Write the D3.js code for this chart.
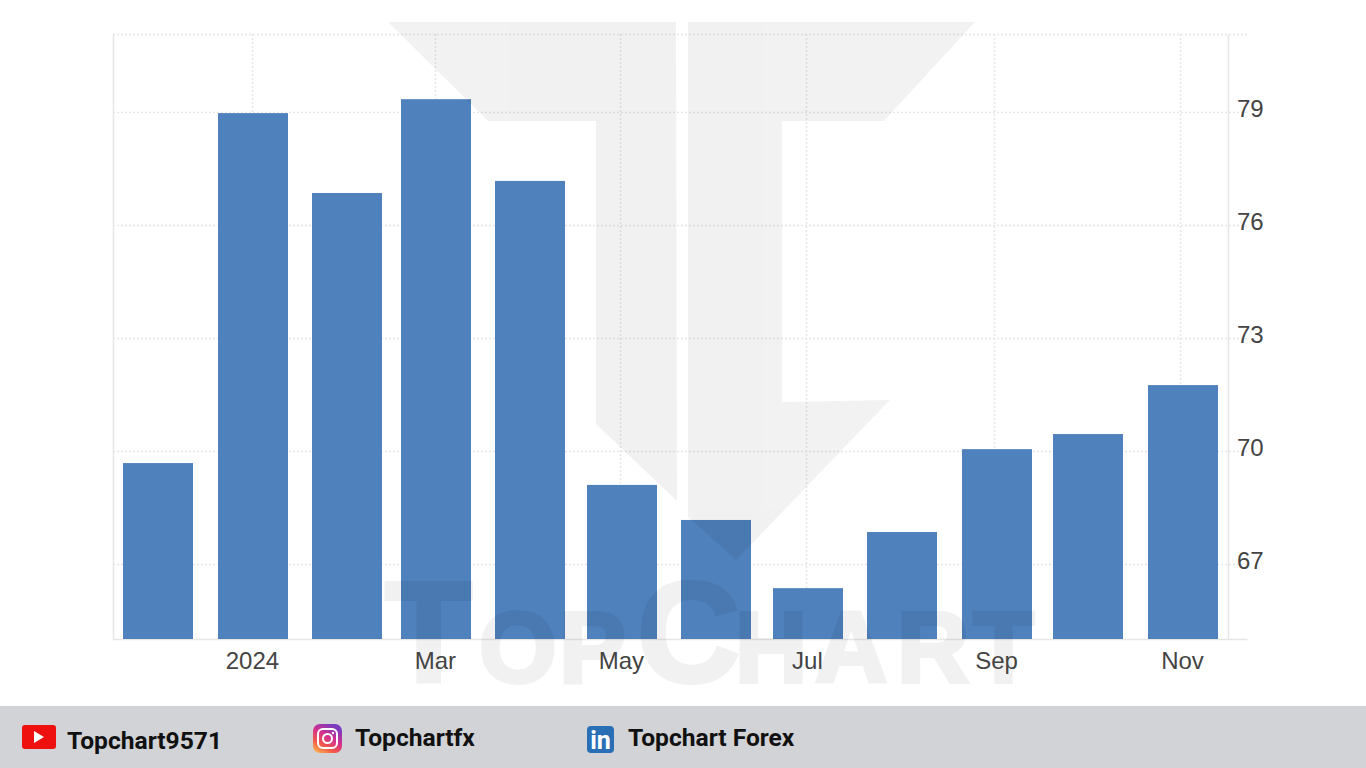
<!DOCTYPE html>
<html>
<head>
<meta charset="utf-8">
<script src="https://cdnjs.cloudflare.com/ajax/libs/d3/7.8.5/d3.min.js"></script>
<style>
  html, body { margin: 0; padding: 0; background: #fff; overflow: hidden; }
  .tick-label { font-family: "Liberation Sans", Arial, sans-serif; font-size: 24px; fill: #444; }
  .social { font-family: Roboto, sans-serif; font-weight: 700; font-size: 24.6px; fill: #111; }
</style>
</head>
<body>
<div id="chart"></div>
<script>
// data
var months = ["2023-12-01", "2024-01-01", "2024-02-01", "2024-03-01", "2024-04-01", "2024-05-01",
              "2024-06-01", "2024-07-01", "2024-08-01", "2024-09-01", "2024-10-01", "2024-11-01"];
var values = [69.68, 78.97, 76.85, 79.34, 77.17, 69.1, 68.17, 66.36, 67.85, 70.05, 70.45, 71.75];
var yTicks = [67, 70, 73, 76, 79];
var xTickMonths = ["2024-01-01", "2024-03-01", "2024-05-01", "2024-07-01", "2024-09-01", "2024-11-01"];
var xTickLabels = ["2024", "Mar", "May", "Jul", "Sep", "Nov"];
var socials = ["Topchart9571", "Topchartfx", "Topchart Forex"];

var svgWidth = 1366;
var svgHeight = 768;
var plot = { left: 113, right: 1228, top: 34, bottom: 639, tickEnd: 1247 };
var barWidth = 70;

var parseDate = d3.timeParse("%Y-%m-%d");

var svg = d3.select("#chart").append("svg")
    .attr("width", svgWidth)
    .attr("height", svgHeight)
    .style("display", "block");

// scales
var xScale = d3.scaleTime()
    .domain([parseDate(months[0]), parseDate(months[months.length - 1])])
    .range([158.4, 1183]);

// the vertical grid drifts a little left of the bars in the original
var xGridScale = d3.scaleTime()
    .domain([parseDate(xTickMonths[0]), parseDate(xTickMonths[xTickMonths.length - 1])])
    .range([252, 1180]);

var yScale = d3.scaleLinear()
    .domain([65.01, 81.07])
    .range([plot.bottom, plot.top]);

// grid
var grid = svg.append("g");

grid.selectAll("line.h")
    .data(yTicks.concat([81.07]))
    .enter().append("line")
    .attr("x1", plot.left)
    .attr("x2", plot.tickEnd)
    .attr("y1", d => Math.round(yScale(d)) + 0.5)
    .attr("y2", d => Math.round(yScale(d)) + 0.5)
    .attr("stroke", "#e6e6e6")
    .attr("stroke-width", 1.5)
    .attr("stroke-dasharray", "2,2");

grid.selectAll("line.v")
    .data(xTickMonths)
    .enter().append("line")
    .attr("x1", d => Math.round(xGridScale(parseDate(d))) + 0.5)
    .attr("x2", d => Math.round(xGridScale(parseDate(d))) + 0.5)
    .attr("y1", plot.top)
    .attr("y2", plot.bottom)
    .attr("stroke", "#e6e6e6")
    .attr("stroke-width", 1.5)
    .attr("stroke-dasharray", "2,2");

// frame lines
var frame = [
  [plot.left, plot.top, plot.left, plot.bottom],
  [plot.right, plot.top, plot.right, plot.bottom],
  [plot.left, plot.bottom, plot.tickEnd, plot.bottom]
];
grid.selectAll("line.frame")
    .data(frame)
    .enter().append("line")
    .attr("x1", d => d[0] + 0.5)
    .attr("y1", d => d[1] + 0.5)
    .attr("x2", d => d[2] + 0.5)
    .attr("y2", d => d[3] + 0.5)
    .attr("stroke", "#e6e6e6")
    .attr("stroke-width", 1.5);

// bars
svg.selectAll("rect.bar")
    .data(values)
    .enter().append("rect")
    .attr("class", "bar")
    .attr("x", (d, i) => Math.round(xScale(parseDate(months[i])) - barWidth / 2))
    .attr("width", barWidth)
    .attr("y", d => yScale(d))
    .attr("height", d => plot.bottom - yScale(d))
    .attr("fill", "#4f81bd");

// watermark sits over the chart
var mark = svg.append("g")
    .attr("fill", "#000")
    .attr("stroke", "#000")
    .attr("opacity", 0.05)
    .style("pointer-events", "none");

mark.append("path")
    .attr("stroke", "none")
    .attr("d", "M388,22 L676,22 L677,501 L596,424 L596,121 L488,121 Z");
mark.append("path")
    .attr("stroke", "none")
    .attr("d", "M688,22 L975,22 L884,121 L782,121 L782,402 L890,400 L736,560 L688,517 Z");

// TopChart in small caps, big and small letters
var markLetters = [["T", 385, 143], ["O", 479, 100], ["P", 559, 100], ["C", 637, 143],
                   ["H", 735, 100], ["A", 815, 100], ["R", 897, 100], ["T", 973, 100]];
mark.selectAll("text")
    .data(markLetters)
    .enter().append("text")
    .attr("x", d => d[1])
    .attr("y", 682)
    .attr("stroke-width", 4)
    .attr("font-family", "Liberation Sans, sans-serif")
    .attr("font-weight", 700)
    .attr("font-size", d => d[2])
    .text(d => d[0]);

// axis labels
var xAxis = d3.axisBottom(xScale)
    .tickValues(xTickMonths.map(parseDate))
    .tickFormat((d, i) => xTickLabels[i])
    .tickSize(0)
    .tickPadding(13);

svg.append("g")
    .attr("transform", `translate(-1, ${plot.bottom})`)
    .call(xAxis)
    .call(g => g.select(".domain").remove())
    .selectAll("text")
    .attr("class", "tick-label");

var yAxis = d3.axisRight(yScale)
    .tickValues(yTicks)
    .tickSize(0)
    .tickPadding(0);

svg.append("g")
    .attr("transform", "translate(1237, -3)")
    .call(yAxis)
    .call(g => g.select(".domain").remove())
    .selectAll("text")
    .attr("class", "tick-label");

// footer
svg.append("rect")
    .attr("x", 0)
    .attr("y", 706)
    .attr("width", svgWidth)
    .attr("height", 62)
    .attr("fill", "#d1d3d6");

var defs = svg.append("defs");
var instaGrad = defs.append("linearGradient")
    .attr("id", "insta")
    .attr("x1", 0).attr("y1", 1).attr("x2", 0.6).attr("y2", 0);
[["0%", "#fdc24e"], ["35%", "#f2574a"], ["65%", "#d3308f"], ["100%", "#7a3bc0"]].forEach(function(s) {
  instaGrad.append("stop").attr("offset", s[0]).attr("stop-color", s[1]);
});

// youtube
svg.append("rect").attr("x", 22).attr("y", 725).attr("width", 34).attr("height", 24).attr("rx", 3).attr("fill", "#ee0f0f");
svg.append("path").attr("d", "M34,731 L44,737 L34,743 Z").attr("fill", "#fff");

// instagram
svg.append("rect").attr("x", 313).attr("y", 724).attr("width", 29).attr("height", 29).attr("rx", 7).attr("fill", "url(#insta)");
svg.append("rect").attr("x", 318).attr("y", 729).attr("width", 19).attr("height", 19).attr("rx", 5)
    .attr("fill", "none").attr("stroke", "#fff").attr("stroke-width", 2);
svg.append("circle").attr("cx", 327.5).attr("cy", 738.5).attr("r", 4.5)
    .attr("fill", "none").attr("stroke", "#fff").attr("stroke-width", 2);
svg.append("circle").attr("cx", 333).attr("cy", 733).attr("r", 1.2).attr("fill", "#fff");

// linkedin
svg.append("rect").attr("x", 587).attr("y", 726).attr("width", 27).attr("height", 27).attr("rx", 4).attr("fill", "#2a6fb5");
svg.append("text").attr("x", 600.5).attr("y", 749).attr("text-anchor", "middle")
    .attr("font-family", "Roboto, sans-serif").attr("font-weight", 700).attr("font-size", 25)
    .attr("fill", "#fff").text("in");

var socialX = [67, 355, 628];
var socialY = [749, 746, 746];
svg.selectAll("text.social")
    .data(socials)
    .enter().append("text")
    .attr("class", "social")
    .attr("x", (d, i) => socialX[i])
    .attr("y", (d, i) => socialY[i])
    .text(d => d);
</script>
</body>
</html>
